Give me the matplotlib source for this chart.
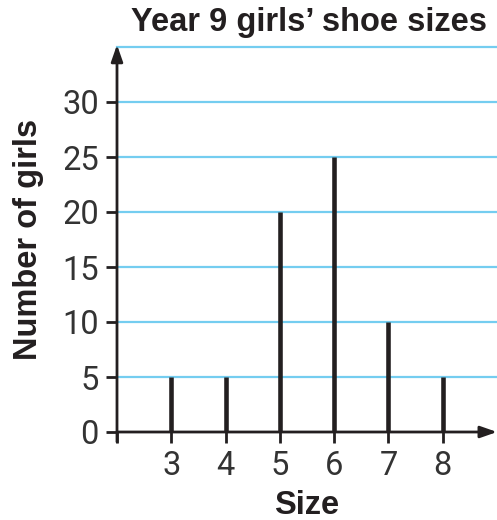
import matplotlib.pyplot as plt

sizes = [3, 4, 5, 6, 7, 8]
girls = [5, 5, 20, 25, 10, 5]
y_ticks = [0, 5, 10, 15, 20, 25, 30]
grid_levels = [5, 10, 15, 20, 25, 30, 35]

ink = '#231f20'
blue = '#74cdf0'

plt.rcParams['font.family'] = ['Liberation Sans', 'DejaVu Sans']

fig = plt.figure(figsize=(4.97, 5.2), dpi=100)
ax = fig.add_axes([117 / 497, 1 - 432 / 520, 1 - 117 / 497, (432 - 47) / 520])
ax.set_xlim(2, 9)
ax.set_ylim(0, 35)

# light blue horizontal lines
for g in grid_levels:
    ax.plot([2, 9], [g, g], color=blue, lw=1.6, clip_on=False, zorder=1)

# stems
ax.vlines(sizes, 0, girls, color=ink, lw=3.3, zorder=3)

# axes with arrows
for s in ax.spines.values():
    s.set_visible(False)
arrow = dict(arrowstyle='-|>,head_length=1.0,head_width=0.35',
             color=ink, lw=2.0, shrinkA=0, shrinkB=0)
ax.annotate('', xy=(2, 35.2), xytext=(2, -0.9), arrowprops=arrow,
            annotation_clip=False, zorder=4)
ax.annotate('', xy=(9.0, 0), xytext=(2, 0), arrowprops=arrow,
            annotation_clip=False, zorder=4)

tick_font = dict(family=['Roboto', 'Liberation Sans', 'DejaVu Sans'], weight='normal', size=23.5)
ax.set_xticks([2] + sizes)
ax.set_xticklabels([''] + [str(s) for s in sizes], fontdict=tick_font)
ax.set_yticks(y_ticks)
ax.set_yticklabels([str(v) for v in y_ticks], fontdict=tick_font)
ax.tick_params(axis='x', direction='out', length=8, width=2.0, color=ink,
               labelcolor='#333333', pad=5)
ax.tick_params(axis='y', direction='out', length=8, width=2.0, color=ink,
               labelcolor='#333333', pad=5)

ax.set_xlabel('Size', fontsize=23.5, fontweight='bold', color=ink, labelpad=6)
ax.set_ylabel('Number of girls', fontsize=23.5, fontweight='bold', color=ink, labelpad=13)
fig.text(0.622, 0.957, 'Year 9 girls\u2019 shoe sizes', ha='center', va='center',
         fontsize=23.5, fontweight='bold', color=ink)

fig.savefig('out.png', dpi=100)
